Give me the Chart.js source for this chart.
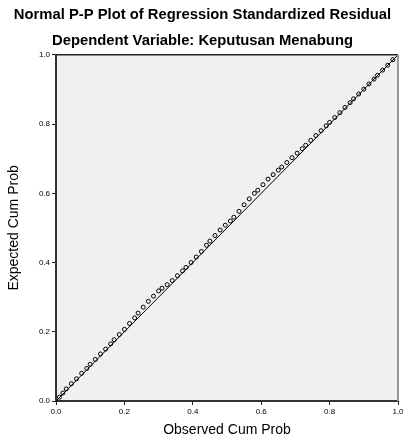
<!DOCTYPE html>
<html>
<head>
<meta charset="utf-8">
<script src="https://cdn.jsdelivr.net/npm/chart.js@4"></script>
<style>
  html, body { margin: 0; padding: 0; background: #fff; }
  #wrap { width: 403px; height: 441px; }
</style>
</head>
<body>
<div id="wrap"><canvas id="ppChart" width="403" height="441"></canvas></div>
<script>
// observed cumulative probability (x) and expected cumulative probability (y)
const observedCum = [0.010, 0.020, 0.030, 0.045, 0.060, 0.075, 0.090, 0.100, 0.115, 0.130,
  0.145, 0.160, 0.170, 0.185, 0.200, 0.215, 0.230, 0.240, 0.255, 0.270,
  0.285, 0.300, 0.310, 0.325, 0.340, 0.355, 0.370, 0.380, 0.395, 0.410,
  0.425, 0.440, 0.450, 0.465, 0.480, 0.495, 0.510, 0.520, 0.535, 0.550,
  0.565, 0.580, 0.590, 0.605, 0.620, 0.635, 0.650, 0.660, 0.675, 0.690,
  0.705, 0.720, 0.730, 0.745, 0.760, 0.775, 0.790, 0.800, 0.815, 0.830,
  0.845, 0.860, 0.870, 0.885, 0.900, 0.915, 0.930, 0.940, 0.955, 0.970, 0.985];
const expectedCum = [0.011, 0.023, 0.035, 0.050, 0.064, 0.080, 0.094, 0.106, 0.120, 0.136,
  0.150, 0.165, 0.177, 0.192, 0.207, 0.224, 0.240, 0.254, 0.271, 0.288,
  0.303, 0.318, 0.326, 0.336, 0.348, 0.362, 0.376, 0.386, 0.400, 0.416,
  0.432, 0.450, 0.462, 0.478, 0.494, 0.508, 0.520, 0.531, 0.548, 0.567,
  0.584, 0.600, 0.609, 0.625, 0.641, 0.654, 0.667, 0.676, 0.689, 0.703,
  0.716, 0.729, 0.739, 0.753, 0.767, 0.781, 0.795, 0.805, 0.819, 0.833,
  0.848, 0.862, 0.873, 0.887, 0.901, 0.916, 0.930, 0.941, 0.956, 0.970, 0.986];
const diagonal = [0, 1];
const tickValues = [0.0, 0.2, 0.4, 0.6, 0.8, 1.0];

const points = observedCum.map((x, i) => ({ x: x, y: expectedCum[i] }));
const lineData = diagonal.map((v) => ({ x: v, y: v }));

// grey plot background and frame on top/right
const frame = {
  id: "frame",
  beforeDraw(chart) {
    const a = chart.chartArea;
    const c = chart.ctx;
    c.save();
    c.fillStyle = "#f0f0f0";
    c.fillRect(a.left, a.top, a.right - a.left, a.bottom - a.top);
    c.restore();
  },
  afterDraw(chart) {
    const a = chart.chartArea;
    const c = chart.ctx;
    c.save();
    c.strokeStyle = "#222";
    c.lineWidth = 1.5;
    c.beginPath();
    c.moveTo(a.left, a.top);
    c.lineTo(a.right, a.top);
    c.stroke();
    c.strokeStyle = "#999";
    c.lineWidth = 2;
    c.beginPath();
    c.moveTo(a.right, a.top);
    c.lineTo(a.right, a.bottom);
    c.stroke();
    c.restore();
  },
};

const fontFamily = "'Liberation Sans', Arial, sans-serif";

new Chart(document.getElementById("ppChart").getContext("2d"), {
  type: "scatter",
  data: {
    datasets: [
      {
        type: "line",
        data: lineData,
        borderColor: "#000",
        borderWidth: 1,
        pointRadius: 0,
        fill: false,
      },
      {
        data: points,
        pointStyle: "circle",
        pointRadius: 2,
        borderColor: "#000",
        borderWidth: 1,
        backgroundColor: "rgba(0,0,0,0)",
      },
    ],
  },
  options: {
    responsive: false,
    animation: false,
    layout: { padding: { left: 2, right: 0, top: 0, bottom: 2 } },
    plugins: {
      legend: { display: false },
      tooltip: { enabled: false },
      title: {
        display: true,
        text: [
          "Normal P-P Plot of Regression Standardized Residual",
          "Dependent Variable: Keputusan Menabung",
        ],
        color: "#000",
        font: { family: fontFamily, size: 14.8, weight: "bold", lineHeight: 1.82 },
        padding: { top: 1, bottom: 0 },
      },
    },
    scales: {
      x: {
        type: "linear",
        min: 0,
        max: 1,
        afterBuildTicks: (axis) => {
          axis.ticks = tickValues.map((v) => ({ value: v }));
        },
        afterFit: (axis) => {
          axis.height = 38;
          axis.paddingRight = 0;
          axis.paddingLeft = 0;
        },
        ticks: {
          color: "#000",
          font: { family: fontFamily, size: 8 },
          padding: 2,
          maxRotation: 0,
          callback: (v) => v.toFixed(1),
        },
        grid: { drawOnChartArea: false, drawTicks: true, tickLength: 4, color: "#222" },
        border: { color: "#333", width: 2 },
        title: {
          display: true,
          text: "Observed Cum Prob",
          color: "#000",
          font: { family: fontFamily, size: 14 },
          padding: { top: 5, bottom: 0 },
        },
      },
      y: {
        type: "linear",
        min: 0,
        max: 1,
        afterBuildTicks: (axis) => {
          axis.ticks = tickValues.map((v) => ({ value: v }));
        },
        afterFit: (axis) => {
          axis.width = 54;
          axis.paddingTop = 0;
          axis.paddingBottom = 0;
        },
        ticks: {
          color: "#000",
          font: { family: fontFamily, size: 8 },
          padding: 2,
          callback: (v) => v.toFixed(1),
        },
        grid: { drawOnChartArea: false, drawTicks: true, tickLength: 4, color: "#222" },
        border: { color: "#333", width: 2 },
        title: {
          display: true,
          text: "Expected Cum Prob",
          color: "#000",
          font: { family: fontFamily, size: 14 },
          padding: { top: 4, bottom: 10 },
        },
      },
    },
  },
  plugins: [frame],
});
</script>
</body>
</html>
